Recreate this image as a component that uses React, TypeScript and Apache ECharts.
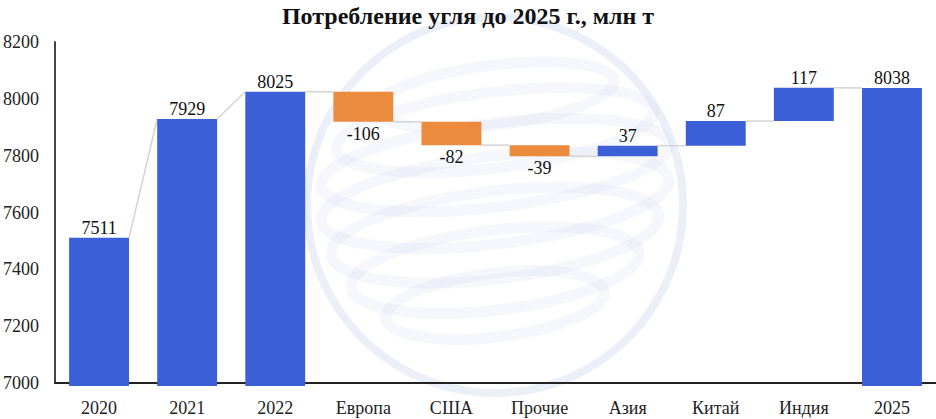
import React, { useEffect, useRef } from "react";
import * as echarts from "echarts";

const TITLE = "Потребление угля до 2025 г., млн т";
const categories = ["2020", "2021", "2022", "Европа", "США", "Прочие", "Азия", "Китай", "Индия", "2025"];
const values = [7511, 7929, 8025, -106, -82, -39, 37, 87, 117, 8038];
const isTotal = [true, true, true, false, false, false, false, false, false, true];
const Y_MIN = 7000;
const Y_MAX = 8200;
const Y_STEP = 200;

const BLUE = "#3A5FD6";
const ORANGE = "#EC8A3E";
const FONT = "Liberation Serif";

function buildRows() {
  const rows: any[] = [];
  let running = 0;
  values.forEach((v, i) => {
    let bottom: number, top: number, startL: number, endL: number;
    if (isTotal[i]) {
      bottom = Y_MIN;
      top = v;
      startL = v;
      endL = v;
      running = v;
    } else {
      startL = running;
      endL = running + v;
      bottom = Math.min(startL, endL);
      top = Math.max(startL, endL);
      running = endL;
    }
    rows.push({ i, bottom, top, startL, endL, v });
  });
  return rows;
}

export default function App() {
  const ref = useRef<HTMLDivElement>(null);
  useEffect(() => {
    if (!ref.current) return;
    const chart = echarts.init(ref.current, undefined, { renderer: "svg" });
    const rows = buildRows();
    const data = rows.map((r) => [r.i, r.bottom, r.top, r.startL, r.endL, r.v]);

    const watermark: any[] = [
      {
        type: "circle",
        shape: { cx: 495, cy: 205, r: 188 },
        style: { fill: "none", stroke: "rgba(205,214,238,0.4)", lineWidth: 8 },
        z: 0,
        silent: true,
      },
    ];
    const bands = [
      { cy: 95, rx: 120, ry: 30 },
      { cy: 130, rx: 160, ry: 38 },
      { cy: 165, rx: 175, ry: 42 },
      { cy: 200, rx: 175, ry: 44 },
      { cy: 235, rx: 165, ry: 44 },
      { cy: 270, rx: 145, ry: 40 },
      { cy: 305, rx: 110, ry: 32 },
    ];
    bands.forEach((b) => {
      watermark.push({
        type: "ellipse",
        x: 495,
        y: b.cy,
        rotation: 0.12,
        shape: { cx: 0, cy: 0, rx: b.rx, ry: b.ry },
        style: { fill: "none", stroke: "rgba(205,214,238,0.2)", lineWidth: 11 },
        z: 0,
        silent: true,
      });
    });

    chart.setOption({
      animation: false,
      backgroundColor: "#ffffff",
      title: {
        text: TITLE,
        left: "center",
        top: -1,
        textStyle: { fontFamily: FONT, fontWeight: "bold", fontSize: 24, color: "#111" },
      },
      graphic: watermark,
      grid: { left: 53, right: 0, top: 42, bottom: 36, containLabel: false },
      xAxis: {
        type: "category",
        data: categories,
        axisLine: { show: true, lineStyle: { color: "#222", width: 2 } },
        axisTick: { show: false },
        axisLabel: { fontFamily: FONT, fontSize: 18, color: "#222", margin: 16 },
        splitLine: { show: false },
      },
      yAxis: {
        type: "value",
        min: Y_MIN,
        max: Y_MAX,
        interval: Y_STEP,
        axisLine: { show: true, lineStyle: { color: "#444", width: 2 } },
        axisTick: { show: false },
        splitLine: { show: false },
        axisLabel: {
          fontFamily: FONT,
          fontSize: 18,
          color: "#222",
          margin: 16,
          formatter: (v: number) => String(v),
        },
      },
      series: [
        {
          type: "custom",
          z: 3,
          data,
          renderItem: (params: any, api: any) => {
            const i = api.value(0);
            const bottom = api.value(1);
            const top = api.value(2);
            const v = api.value(5);
            const band = api.size([1, 0])[0];
            const w = band * 0.68;
            const pTop = api.coord([i, top]);
            const pBot = api.coord([i, bottom]);
            const x0 = pTop[0] - w / 2;
            const children: any[] = [];
            const extraBottom = isTotal[i] ? 3 : 0;
            children.push({
              type: "rect",
              shape: { x: x0, y: pTop[1], width: w, height: pBot[1] - pTop[1] + extraBottom },
              style: { fill: v < 0 ? ORANGE : BLUE },
            });
            const labelAbove = v >= 0;
            children.push({
              type: "text",
              style: {
                text: String(v),
                x: pTop[0],
                y: labelAbove ? pTop[1] - 1 : pBot[1] + 3,
                textAlign: "center",
                textVerticalAlign: labelAbove ? "bottom" : "top",
                fill: "#111",
                fontFamily: FONT,
                fontSize: 18,
              },
              z2: 5,
            });
            const next = rows[i + 1];
            if (next) {
              const endL = api.value(4);
              const a = api.coord([i, endL]);
              const b = api.coord([i + 1, next.startL]);
              children.push({
                type: "line",
                shape: { x1: a[0] + w / 2, y1: a[1], x2: b[0] - w / 2, y2: b[1] },
                style: { stroke: "#d4d4d4", lineWidth: 1.5 },
              });
            }
            return { type: "group", children };
          },
        },
      ],
    });
    return () => chart.dispose();
  }, []);
  return (
    <div
      ref={ref}
      style={{ position: "fixed", left: 0, top: 0, width: 936, height: 419, background: "#fff" }}
    />
  );
}
